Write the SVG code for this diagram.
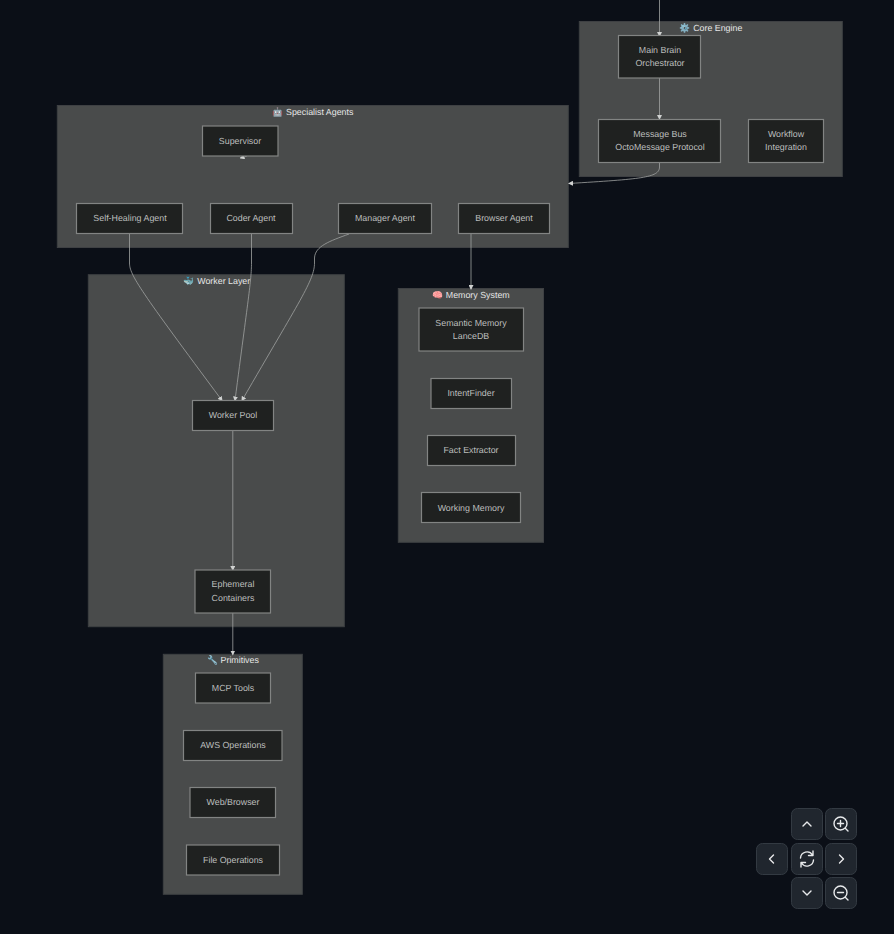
<svg xmlns="http://www.w3.org/2000/svg" width="894" height="934" viewBox="0 0 894 934">
<style>
text{font-family:"Liberation Sans",Arial,sans-serif;font-size:8.850px;text-anchor:middle;text-rendering:geometricPrecision}
.c rect{fill:#494b4b;stroke:#3e4043;stroke-width:1}
.c text{fill:#e6e6e6}
.n rect{fill:#1f2120;stroke:#828483;stroke-width:1.2}
.n text{fill:#bcbebd}
.e path{fill:none;stroke:#a0a2a1;stroke-width:.8}
.b rect{fill:#20262e;stroke:#333a42;stroke-width:1}
.b path,.b circle{fill:none;stroke:#e8eaec;stroke-width:1.4;stroke-linecap:round;stroke-linejoin:round}
</style>
<defs><marker id="a" markerWidth="5" markerHeight="5" refX="4" refY="2.5" orient="auto" markerUnits="userSpaceOnUse"><path d="M0 0L5 2.5L0 5z" fill="#d0d2d1"/></marker></defs>
<rect width="894" height="934" fill="#0b0f17"/>
<g id="cluster-core" class="c"><rect x="579.3" y="21.500" width="263" height="155"/><text x="711" y="31">⚙️ Core Engine</text></g>
<g id="cluster-agents" class="c"><rect x="57.300" y="105.500" width="511" height="142"/><text x="313" y="115">🤖 Specialist Agents</text></g>
<g id="cluster-worker" class="c"><rect x="88.300" y="274.700" width="256" height="352"/><text x="217" y="284">🐳 Worker Layer</text></g>
<g id="cluster-memory" class="c"><rect x="398.300" y="288.500" width="145.200" height="253.800"/><text x="471" y="298">🧠 Memory System</text></g>
<g id="cluster-primitives" class="c"><rect x="163.300" y="654.300" width="139" height="240"/><text x="233" y="663">🔧 Primitives</text></g>
<g id="connectors" class="e">
<path d="M659.500 0V36" marker-end="url(#a)"/>
<path d="M659.500 78V119" marker-end="url(#a)"/>
<path d="M659.500 163V167C659.500 178 640 179 569 183.500" marker-end="url(#a)"/>
<path d="M247 156L240.500 158" marker-end="url(#a)"/>
<path d="M129.500 234V263C129.500 275 140 290 222 400.500" marker-end="url(#a)"/>
<path d="M251.500 234V263C251.500 280 248 300 235 400.500" marker-end="url(#a)"/>
<path d="M349 234C330 241 315 246 314.500 258V263C314.500 280 300 300 242 400.500" marker-end="url(#a)"/>
<path d="M471 234V289" marker-end="url(#a)"/>
<path d="M232.800 431V570" marker-end="url(#a)"/>
<path d="M232.800 613V654.500" marker-end="url(#a)"/>
</g>
<g id="node-main" class="n"><rect x="618.500" y="35.500" width="82" height="42.500"/><text x="660" y="53">Main Brain</text><text x="660" y="66">Orchestrator</text></g>
<g id="node-bus" class="n"><rect x="598.500" y="119.500" width="122" height="43"/><text x="660" y="137">Message Bus</text><text x="660" y="150">OctoMessage Protocol</text></g>
<g id="node-workflow" class="n"><rect x="748.500" y="119.500" width="75" height="43"/><text x="786" y="137">Workflow</text><text x="786" y="150">Integration</text></g>
<g id="node-supervisor" class="n"><rect x="202.500" y="126" width="75.500" height="30"/><text x="240" y="144">Supervisor</text></g>
<g id="node-selfheal" class="n"><rect x="76.500" y="203.500" width="106" height="30"/><text x="130" y="221">Self-Healing Agent</text></g>
<g id="node-coder" class="n"><rect x="210.500" y="203.500" width="82" height="30"/><text x="251" y="221">Coder Agent</text></g>
<g id="node-manager" class="n"><rect x="338.500" y="203.500" width="93" height="30"/><text x="385" y="221">Manager Agent</text></g>
<g id="node-browser" class="n"><rect x="458.500" y="203.500" width="91" height="30"/><text x="504" y="221">Browser Agent</text></g>
<g id="node-pool" class="n"><rect x="192.500" y="400.500" width="81" height="30"/><text x="233" y="418">Worker Pool</text></g>
<g id="node-containers" class="n"><rect x="195" y="570" width="75.500" height="43"/><text x="233" y="587">Ephemeral</text><text x="233" y="601">Containers</text></g>
<g id="node-semantic" class="n"><rect x="419" y="308" width="104.500" height="43"/><text x="471" y="326">Semantic Memory</text><text x="471" y="339">LanceDB</text></g>
<g id="node-intent" class="n"><rect x="431" y="378.500" width="80.500" height="30"/><text x="471" y="396">IntentFinder</text></g>
<g id="node-fact" class="n"><rect x="427.500" y="435.500" width="88" height="30"/><text x="471" y="453">Fact Extractor</text></g>
<g id="node-working" class="n"><rect x="421.500" y="492.500" width="99" height="30"/><text x="471" y="511">Working Memory</text></g>
<g id="node-mcp" class="n"><rect x="195.500" y="673" width="75" height="30"/><text x="233" y="691">MCP Tools</text></g>
<g id="node-aws" class="n"><rect x="183.500" y="730.500" width="98.500" height="30"/><text x="233" y="748">AWS Operations</text></g>
<g id="node-web" class="n"><rect x="190" y="787.500" width="85.500" height="30"/><text x="233" y="805">Web/Browser</text></g>
<g id="node-file" class="n"><rect x="186.500" y="845" width="93" height="30"/><text x="233" y="863">File Operations</text></g>
<g id="controls" class="b">
<rect x="791.500" y="808.500" width="31" height="31" rx="6"/><path d="M803 826L807 822L811 826"/>
<rect x="825.500" y="808.500" width="31" height="31" rx="6"/><circle cx="840.500" cy="823.500" r="6.500"/><path d="M837.500 823.500H843.500M840.500 820.500V826.500M845.500 828.500L848 831"/>
<rect x="756.500" y="843.500" width="31" height="31" rx="6"/><path d="M773.500 855L769.500 859L773.500 863"/>
<rect x="791.500" y="843.500" width="31" height="31" rx="6"/><path d="M800.500 858A6.500 6.500 0 0 1 812.500 855M813 851V855.500H808.500M813.500 860A6.500 6.500 0 0 1 801.500 863M801 867V862.500H805.500"/>
<rect x="825.500" y="843.500" width="31" height="31" rx="6"/><path d="M839.500 855L843.500 859L839.500 863"/>
<rect x="791.500" y="877.500" width="31" height="31" rx="6"/><path d="M803 891L807 895L811 891"/>
<rect x="825.500" y="877.500" width="31" height="31" rx="6"/><circle cx="840.500" cy="892.500" r="6.500"/><path d="M837.500 892.500H843.500M845.500 897.500L848 900"/>
</g>
</svg>
